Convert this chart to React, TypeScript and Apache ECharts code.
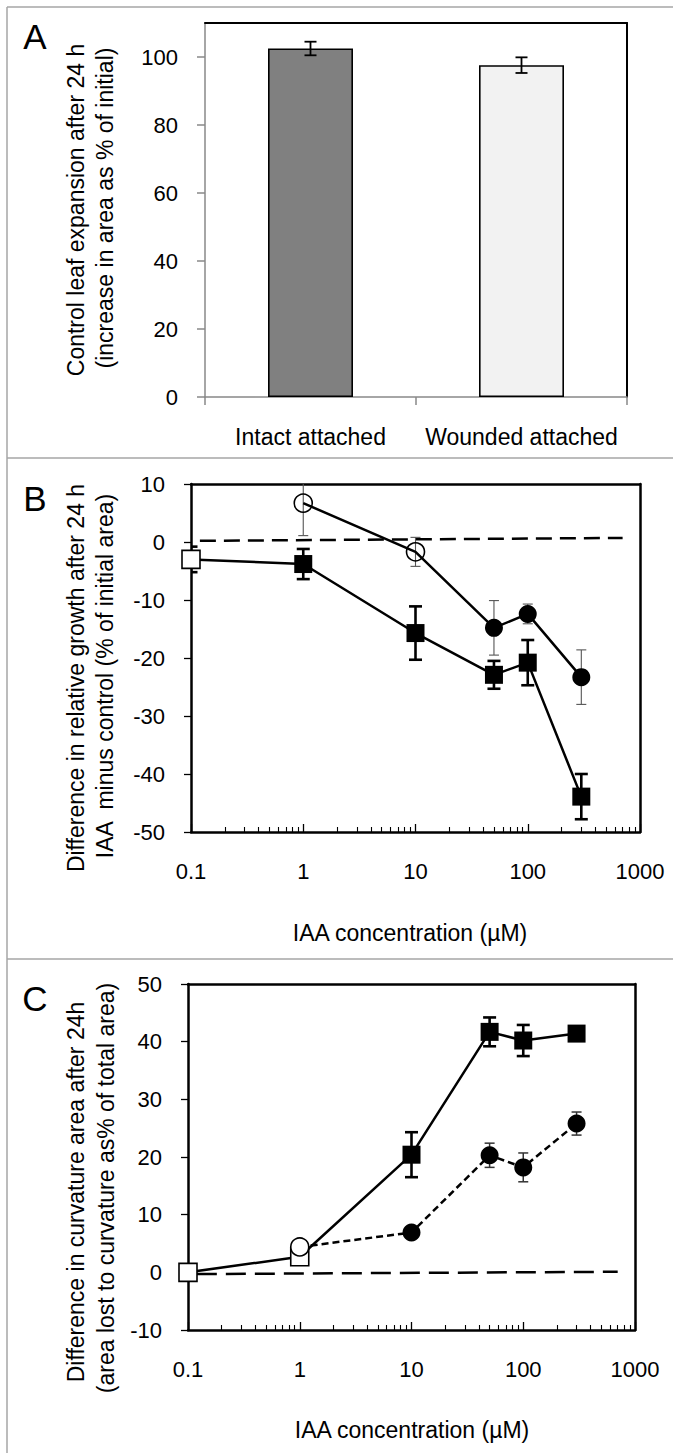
import React, { useEffect, useRef } from 'react';
import * as echarts from 'echarts';

// ---------- Panel A ----------
const barCategories = ['Intact attached', 'Wounded attached'];
const barValues = [102.5, 97.6];
const barErrors = [2.0, 2.3];
const barColors = ['#808080', '#f2f2f2'];
const barTicks = [0, 20, 40, 60, 80, 100];

// ---------- log axis ticks (B, C) ----------
const logMajorTicks = [0.1, 1, 10, 100, 1000];
const logMinorTicks = [
  0.2, 0.3, 0.4, 0.5, 0.6, 0.7, 0.8, 0.9,
  2, 3, 4, 5, 6, 7, 8, 9,
  20, 30, 40, 50, 60, 70, 80, 90,
  200, 300, 400, 500, 600, 700, 800, 900,
];
const refX = [0.12, 700];

// ---------- Panel B ----------
const bSquareConc = [0.1, 1, 10, 50, 100, 300];
const bSquareMean = [-3.0, -3.8, -15.7, -22.9, -20.8, -43.9];
const bSquareErr = [2.2, 2.6, 4.6, 2.4, 3.9, 3.9];
const bSquareOpen = [true, false, false, false, false, false];
const bCircleConc = [1, 10, 50, 100, 300];
const bCircleMean = [6.7, -1.7, -14.8, -12.4, -23.3];
const bCircleErr = [5.6, 2.5, 4.7, 1.7, 4.7];
const bCircleOpen = [true, true, false, false, false];
const bRefY = [0.2, 0.7];

// ---------- Panel C ----------
const cSquareConc = [0.1, 1, 10, 50, 100, 300];
const cSquareMean = [0.0, 2.7, 20.4, 41.7, 40.2, 41.4];
const cSquareErr = [0, 0, 3.9, 2.5, 2.7, 0.8];
const cSquareOpen = [true, true, false, false, false, false];
const cCircleConc = [1, 10, 50, 100, 300];
const cCircleMean = [4.4, 6.9, 20.3, 18.2, 25.8];
const cCircleErr = [0, 0, 2.1, 2.5, 2.0];
const cCircleOpen = [true, false, false, false, false];
const cRefY = [-0.3, 0.1];

const FONT = "'Liberation Sans', Arial, sans-serif";

function errRender(capHalf: number, width: number, color: string) {
  return (params: any, api: any) => {
    const x = api.value(0);
    const y = api.value(1);
    const e = api.value(2);
    if (!e) return null;
    const top = api.coord([x, y + e]);
    const bot = api.coord([x, y - e]);
    const style = { stroke: color, lineWidth: width, fill: null };
    return {
      type: 'group',
      children: [
        { type: 'line', shape: { x1: top[0], y1: top[1], x2: bot[0], y2: bot[1] }, style },
        { type: 'line', shape: { x1: top[0] - capHalf, y1: top[1], x2: top[0] + capHalf, y2: top[1] }, style },
        { type: 'line', shape: { x1: bot[0] - capHalf, y1: bot[1], x2: bot[0] + capHalf, y2: bot[1] }, style },
      ],
    };
  };
}

function markerData(xs: number[], ys: number[], open: boolean[], hollowFill: string) {
  return xs.map((x, i) => ({
    value: [x, ys[i]],
    itemStyle: open[i]
      ? { color: hollowFill, borderColor: '#000', borderWidth: 1.6 }
      : { color: '#000', borderColor: '#000', borderWidth: 0 },
  }));
}

function errData(xs: number[], ys: number[], es: number[]) {
  return xs.map((x, i) => [x, ys[i], es[i]]);
}

const logLabel = (v: number) => {
  const map: Record<string, string> = { '0.1': '0.1', '1': '1', '10': '10', '100': '100', '1000': '1000' };
  const k = String(Math.round(v * 1000) / 1000);
  return map[k] ?? '';
};

function logAxes(grid: number) {
  return [
    {
      type: 'log', gridIndex: grid, logBase: 10, min: 0.1, max: 1000, position: 'bottom',
      axisLine: { show: true, onZero: false, lineStyle: { color: '#000', width: 2.5 } },
      axisTick: { show: true, inside: true, length: 8, lineStyle: { color: '#000', width: 1.3 }, customValues: logMajorTicks },
      axisLabel: { show: true, margin: 28, fontSize: 22, color: '#000', fontFamily: FONT, formatter: logLabel, customValues: logMajorTicks },
      splitLine: { show: false }, minorTick: { show: false },
    },
    {
      type: 'log', gridIndex: grid, logBase: 10, min: 0.1, max: 1000, position: 'bottom',
      axisLine: { show: false, onZero: false },
      axisTick: { show: true, inside: true, length: 5, lineStyle: { color: '#000', width: 1.1 }, customValues: logMinorTicks },
      axisLabel: { show: false },
      splitLine: { show: false },
    },
    {
      type: 'log', gridIndex: grid, logBase: 10, min: 0.1, max: 1000, position: 'top',
      axisLine: { show: true, onZero: false, lineStyle: { color: '#000', width: 2.5 } },
      axisTick: { show: false }, axisLabel: { show: false }, splitLine: { show: false },
    },
  ];
}

function valueAxes(grid: number, min: number, max: number) {
  return [
    {
      type: 'value', gridIndex: grid, min, max, interval: 10, position: 'left',
      axisLine: { show: true, onZero: false, lineStyle: { color: '#000', width: 2.5 } },
      axisTick: { show: true, inside: false, length: 7, lineStyle: { color: '#000', width: 1.3 } },
      axisLabel: { show: true, margin: 26, fontSize: 22, color: '#000', fontFamily: FONT },
      splitLine: { show: false },
    },
    {
      type: 'value', gridIndex: grid, min, max, interval: 10, position: 'right',
      axisLine: { show: true, onZero: false, lineStyle: { color: '#000', width: 2.5 } },
      axisTick: { show: false }, axisLabel: { show: false }, splitLine: { show: false },
    },
  ];
}

function vText(x: number, y: number, text: string, size = 23) {
  return {
    type: 'text', x, y, rotation: Math.PI / 2,
    style: { text, fontSize: size, fontFamily: FONT, fill: '#000', align: 'center', verticalAlign: 'middle' },
  };
}
function hText(x: number, y: number, text: string, size = 23) {
  return {
    type: 'text', x, y,
    style: { text, fontSize: size, fontFamily: FONT, fill: '#000', align: 'center', verticalAlign: 'middle' },
  };
}
function gLine(x1: number, y1: number, x2: number, y2: number) {
  return { type: 'line', shape: { x1, y1, x2, y2 }, style: { stroke: '#a6a6a6', lineWidth: 1.5 } };
}

export default function App() {
  const ref = useRef<HTMLDivElement>(null);
  useEffect(() => {
    if (!ref.current) return;
    const chart = echarts.init(ref.current, undefined, { renderer: 'svg' });
    const option: any = {
      animation: false,
      backgroundColor: '#fff',
      grid: [
        { left: 205, top: 23, width: 422, height: 374 },
        { left: 191, top: 484, width: 449, height: 348 },
        { left: 188, top: 984, width: 447, height: 346 },
      ],
      xAxis: [
        {
          type: 'category', gridIndex: 0, data: barCategories, position: 'bottom',
          axisLine: { show: true, onZero: false, lineStyle: { color: '#888', width: 1.5 } },
          axisTick: { show: true, inside: false, length: 8, alignWithLabel: false, lineStyle: { color: '#888', width: 1.5 } },
          axisLabel: { interval: 0, margin: 28, fontSize: 23, color: '#000', fontFamily: FONT },
        },
        {
          type: 'category', gridIndex: 0, data: barCategories, position: 'top',
          axisLine: { show: true, onZero: false, lineStyle: { color: '#000', width: 2 } },
          axisTick: { show: false }, axisLabel: { show: false },
        },
        ...logAxes(1),
        ...logAxes(2),
      ],
      yAxis: [
        {
          type: 'value', gridIndex: 0, min: 0, max: 110, position: 'left',
          axisLine: { show: true, onZero: false, lineStyle: { color: '#888', width: 1.5 } },
          axisTick: { show: true, inside: false, length: 8, lineStyle: { color: '#888', width: 1.5 }, customValues: barTicks },
          axisLabel: { margin: 27, fontSize: 22, color: '#000', fontFamily: FONT, customValues: barTicks },
          splitLine: { show: false },
        },
        {
          type: 'value', gridIndex: 0, min: 0, max: 110, position: 'right',
          axisLine: { show: true, onZero: false, lineStyle: { color: '#000', width: 2 } },
          axisTick: { show: false }, axisLabel: { show: false }, splitLine: { show: false },
        },
        ...valueAxes(1, -50, 10),
        ...valueAxes(2, -10, 50),
      ],
      series: [
        // Panel A
        {
          type: 'bar', xAxisIndex: 0, yAxisIndex: 0, barWidth: 85,
          data: barValues.map((v, i) => ({
            value: v,
            itemStyle: { color: barColors[i], borderColor: '#000', borderWidth: 1.6 },
          })),
        },
        {
          type: 'custom', xAxisIndex: 0, yAxisIndex: 0, z: 5,
          renderItem: errRender(6, 1.8, '#000'),
          data: barValues.map((v, i) => [i, v, barErrors[i]]),
        },
        // Panel B
        {
          type: 'line', xAxisIndex: 2, yAxisIndex: 2, data: refX.map((x, i) => [x, bRefY[i]]),
          symbol: 'none', lineStyle: { color: '#000', width: 2.5, type: [16, 8] }, z: 1,
        },
        {
          type: 'custom', xAxisIndex: 2, yAxisIndex: 2, clip: true, z: 2,
          renderItem: errRender(5, 1.1, '#555'),
          data: errData(bCircleConc, bCircleMean, bCircleErr),
        },
        {
          type: 'custom', xAxisIndex: 2, yAxisIndex: 2, clip: true, z: 2,
          renderItem: errRender(6.5, 2.6, '#000'),
          data: errData(bSquareConc, bSquareMean, bSquareErr),
        },
        {
          type: 'line', xAxisIndex: 2, yAxisIndex: 2, z: 3,
          symbol: 'rect', symbolSize: 18,
          lineStyle: { color: '#000', width: 2.5 },
          data: markerData(bSquareConc, bSquareMean, bSquareOpen, '#fff'),
        },
        {
          type: 'line', xAxisIndex: 2, yAxisIndex: 2, z: 3,
          symbol: 'circle', symbolSize: 18,
          lineStyle: { color: '#000', width: 2.5 },
          data: markerData(bCircleConc, bCircleMean, bCircleOpen, 'rgba(255,255,255,0)'),
        },
        // Panel C
        {
          type: 'line', xAxisIndex: 5, yAxisIndex: 4, data: refX.map((x, i) => [x, cRefY[i]]),
          symbol: 'none', lineStyle: { color: '#000', width: 2.5, type: [20, 9] }, z: 1,
        },
        {
          type: 'custom', xAxisIndex: 5, yAxisIndex: 4, clip: true, z: 2,
          renderItem: errRender(6.5, 2.6, '#000'),
          data: errData(cSquareConc, cSquareMean, cSquareErr),
        },
        {
          type: 'custom', xAxisIndex: 5, yAxisIndex: 4, clip: true, z: 2,
          renderItem: errRender(5, 1.5, '#333'),
          data: errData(cCircleConc, cCircleMean, cCircleErr),
        },
        {
          type: 'line', xAxisIndex: 5, yAxisIndex: 4, z: 3,
          symbol: 'rect', symbolSize: 18,
          lineStyle: { color: '#000', width: 2.5 },
          data: markerData(cSquareConc, cSquareMean, cSquareOpen, '#fff'),
        },
        {
          type: 'line', xAxisIndex: 5, yAxisIndex: 4, z: 4,
          symbol: 'circle', symbolSize: 18,
          lineStyle: { color: '#000', width: 2.5, type: [7, 4] },
          data: markerData(cCircleConc, cCircleMean, cCircleOpen, '#fff'),
        },
      ],
      graphic: [
        gLine(7, 7, 673, 7),
        gLine(7, 7, 7, 1453),
        gLine(7, 458, 673, 458),
        gLine(7, 959, 673, 959),
        hText(35, 36, 'A', 35),
        hText(35, 498, 'B', 35),
        hText(35, 998, 'C', 35),
        vText(76, 210, 'Control leaf expansion after 24 h'),
        vText(105, 208, '(increase in area as % of initial)'),
        vText(76, 678, 'Difference in relative growth after 24 h'),
        vText(105, 676, 'IAA  minus control (% of initial area)'),
        hText(410, 933, 'IAA concentration (µM)'),
        vText(76, 1192, 'Difference in curvature area after 24h'),
        vText(106, 1188, '(area lost to curvature as% of total area)'),
        hText(412, 1430, 'IAA concentration (µM)'),
      ],
    };
    chart.setOption(option);
    return () => chart.dispose();
  }, []);
  return <div ref={ref} style={{ position: 'absolute', left: 0, top: 0, width: 673, height: 1453 }} />;
}
